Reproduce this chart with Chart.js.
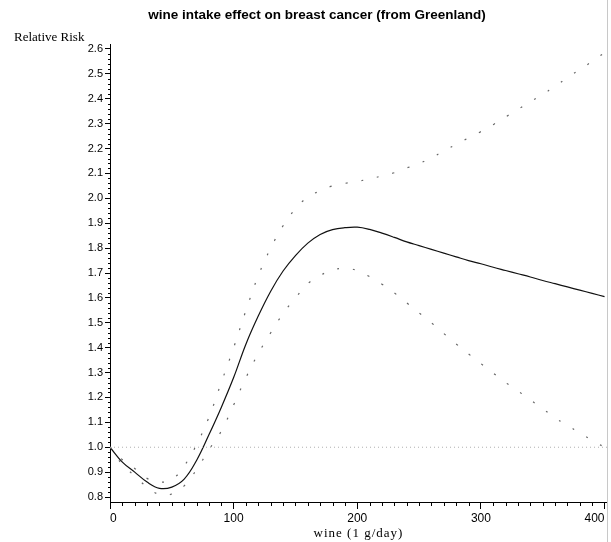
<!DOCTYPE html>
<html>
<head>
<meta charset="utf-8">
<script src="https://cdn.jsdelivr.net/npm/chart.js@4/dist/chart.umd.min.js"></script>
<style>
  html, body { margin: 0; padding: 0; background: #fff; }
</style>
</head>
<body>
<canvas id="chart" width="611" height="542"></canvas>
<script>
// wine intake in g/day
const wine = [0, 10, 20, 30, 40, 50, 60, 70, 80, 90, 100, 110, 120, 130, 140, 150, 160, 170, 180, 190,
  200, 210, 220, 230, 240, 250, 260, 270, 280, 290, 300, 310, 320, 330, 340, 350, 360, 370, 380, 390, 400];

// fitted relative risk (solid line)
const riskFit = [1.0, 0.94, 0.90, 0.86, 0.835, 0.84, 0.872, 0.947, 1.05, 1.16, 1.28, 1.415, 1.528, 1.627, 1.708, 1.77, 1.82, 1.855, 1.874, 1.882,
  1.884, 1.875, 1.86, 1.843, 1.825, 1.81, 1.795, 1.78, 1.765, 1.75, 1.737, 1.723, 1.71, 1.697, 1.684, 1.67, 1.657, 1.644, 1.631, 1.618, 1.605];

// upper and lower confidence limits (dotted)
const riskUpper = [1.0, 0.95, 0.915, 0.875, 0.86, 0.87, 0.925, 1.01, 1.12, 1.26, 1.40, 1.55, 1.69, 1.80, 1.89, 1.958, 2.005, 2.03, 2.05, 2.06,
  2.068, 2.078, 2.09, 2.103, 2.122, 2.14, 2.163, 2.19, 2.217, 2.243, 2.268, 2.296, 2.327, 2.357, 2.388, 2.418, 2.45, 2.485, 2.517, 2.55, 2.585];
const riskLower = [1.0, 0.93, 0.885, 0.84, 0.81, 0.812, 0.845, 0.91, 0.99, 1.065, 1.17, 1.28, 1.377, 1.46, 1.537, 1.60, 1.657, 1.69, 1.712, 1.718,
  1.71, 1.685, 1.655, 1.62, 1.58, 1.54, 1.50, 1.457, 1.415, 1.375, 1.336, 1.298, 1.26, 1.226, 1.19, 1.155, 1.118, 1.088, 1.057, 1.028, 1.0];

// reference line at RR = 1
const refWine = [0, 402];
const refRisk = [1.0, 1.0];

// axis ticks
const xTicks = [0, 100, 200, 300, 400];
const yTicks = [0.8, 0.9, 1.0, 1.1, 1.2, 1.3, 1.4, 1.5, 1.6, 1.7, 1.8, 1.9, 2.0, 2.1, 2.2, 2.3, 2.4, 2.5, 2.6];

const xRange = [0, 402];
const yRange = [0.78, 2.62];

function pairs(xs, ys) {
  return xs.map(function (x, i) { return { x: x, y: ys[i] }; });
}

// extra text and minor ticks drawn around the plot
const decorations = {
  id: 'decorations',
  afterDraw(chart) {
    const ctx = chart.ctx;
    const xs = chart.scales.x;
    const ys = chart.scales.y;
    const area = chart.chartArea;
    ctx.save();
    ctx.fillStyle = '#000';
    ctx.textBaseline = 'middle';

    ctx.font = 'bold 13.5px "Liberation Sans", Arial, sans-serif';
    ctx.textAlign = 'center';
    ctx.fillText('wine intake effect on breast cancer (from Greenland)', 317, 15);

    ctx.font = '13px "Liberation Serif", "Times New Roman", serif';
    ctx.textAlign = 'left';
    ctx.fillText('Relative Risk', 14, 38);

    ctx.textAlign = 'center';
    ctx.letterSpacing = '1px';
    ctx.fillText('wine (1 g/day)', (area.left + area.right) / 2, 534);
    ctx.letterSpacing = '0px';

    // minor ticks
    ctx.strokeStyle = '#000';
    ctx.lineWidth = 1;
    ctx.beginPath();
    for (let v = 10; v <= 400; v += 10) {
      if (v % 100 === 0) continue;
      const px = Math.round(xs.getPixelForValue(v)) + 0.5;
      ctx.moveTo(px, area.bottom);
      ctx.lineTo(px, area.bottom + 4);
    }
    for (let k = 40; k <= 130; k++) {
      if (k % 5 === 0) continue;
      const py = Math.round(ys.getPixelForValue(k * 0.02)) + 0.5;
      ctx.moveTo(area.left - 2, py);
      ctx.lineTo(area.left, py);
    }
    ctx.stroke();

    // right frame edge
    ctx.strokeStyle = '#c8c8c8';
    ctx.beginPath();
    ctx.moveTo(607.5, 0);
    ctx.lineTo(607.5, 542);
    ctx.stroke();
    ctx.restore();
  }
};

new Chart(document.getElementById('chart'), {
  type: 'line',
  data: {
    datasets: [
      {
        data: pairs(refWine, refRisk),
        borderColor: '#b0b0b0',
        borderWidth: 1,
        borderDash: [1, 3],
        pointRadius: 0
      },
      {
        data: pairs(wine, riskUpper),
        borderColor: '#666',
        borderWidth: 1.2,
        borderDash: [2, 14],
        pointRadius: 0,
        tension: 0.4
      },
      {
        data: pairs(wine, riskLower),
        borderColor: '#666',
        borderWidth: 1.2,
        borderDash: [2, 14],
        pointRadius: 0,
        tension: 0.4
      },
      {
        data: pairs(wine, riskFit),
        borderColor: '#111',
        borderWidth: 1.2,
        pointRadius: 0,
        tension: 0.4
      }
    ]
  },
  options: {
    responsive: false,
    animation: false,
    layout: { padding: { top: 44, right: 4, left: 0, bottom: 0 } },
    plugins: {
      legend: { display: false },
      tooltip: { enabled: false }
    },
    scales: {
      x: {
        type: 'linear',
        min: xRange[0],
        max: xRange[1],
        afterFit: function (scale) { scale.height = 40; },
        afterBuildTicks: function (scale) {
          scale.ticks = xTicks.map(function (v) { return { value: v }; });
        },
        border: { display: true, color: '#000', width: 1 },
        grid: { drawOnChartArea: false, drawTicks: true, tickLength: 7, color: '#000' },
        ticks: {
          align: 'inner',
          padding: 2,
          color: '#000',
          font: { family: '"Liberation Sans", Arial, sans-serif', size: 12 },
          maxRotation: 0,
          autoSkip: false
        }
      },
      y: {
        type: 'linear',
        min: yRange[0],
        max: yRange[1],
        afterFit: function (scale) { scale.width = 110; },
        afterBuildTicks: function (scale) {
          scale.ticks = yTicks.map(function (v) { return { value: v }; });
        },
        border: { display: true, color: '#000', width: 1 },
        grid: { drawOnChartArea: false, drawTicks: true, tickLength: 5, color: '#000' },
        ticks: {
          padding: 2,
          color: '#000',
          autoSkip: false,
          font: { family: '"Liberation Sans", Arial, sans-serif', size: 11 },
          callback: function (v) { return v.toFixed(1); }
        }
      }
    }
  },
  plugins: [decorations]
});
</script>
</body>
</html>
